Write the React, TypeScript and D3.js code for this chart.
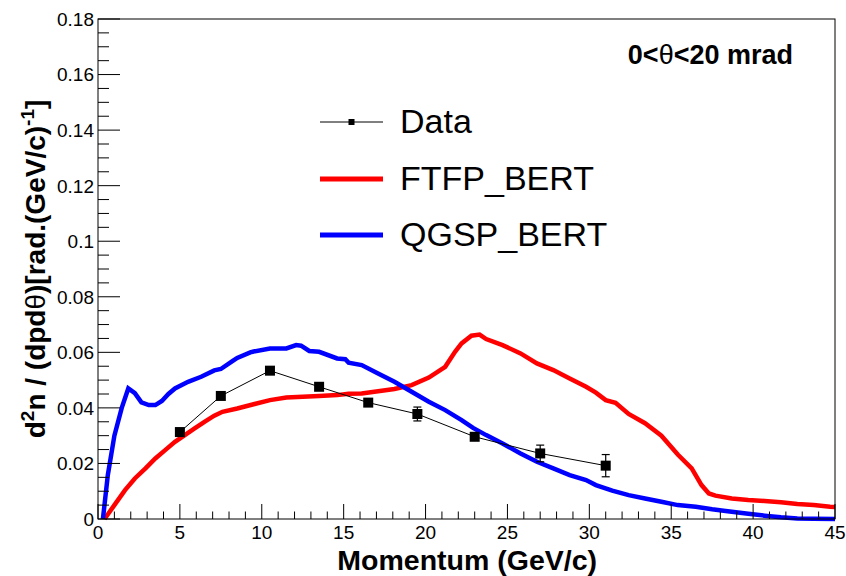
import React from "react";
import * as d3 from "d3";

// Measured double-differential yield, 0 < theta < 20 mrad
const dataMomentum = [5, 7.5, 10.5, 13.5, 16.5, 19.5, 23, 27, 31];
const dataYield = [0.0313, 0.0443, 0.0534, 0.0476, 0.0419, 0.0378, 0.0296, 0.0236, 0.0192];
const dataError = [0.001, 0.001, 0.001, 0.0012, 0.0012, 0.0025, 0.0015, 0.003, 0.004];

// FTFP_BERT simulation: [momentum, yield]
const ftfpBert: [number, number][] = [
  [0.4, 0], [1.0, 0.005], [1.65, 0.0104], [2.25, 0.0146], [2.9, 0.0182], [3.5, 0.0218],
  [4.1, 0.0248], [4.7, 0.0278], [5.3, 0.0302], [5.9, 0.0326], [6.5, 0.035], [7.1, 0.0372],
  [7.6, 0.0386], [8.5, 0.0398], [9.5, 0.0413], [10.5, 0.0428], [11.5, 0.0437], [12.5, 0.044],
  [13.5, 0.0443], [14.6, 0.0446], [15.3, 0.0451], [16.1, 0.0452], [17.1, 0.046], [18.1, 0.0468],
  [19.15, 0.0482], [20.2, 0.0509], [21.2, 0.0548], [21.8, 0.0602], [22.2, 0.0632], [22.8, 0.066],
  [23.3, 0.0664], [23.7, 0.0648], [24.7, 0.0626], [25.8, 0.0596], [26.8, 0.056], [27.8, 0.0536],
  [28.8, 0.0506], [29.8, 0.0476], [30.4, 0.0455], [31.0, 0.0428], [31.6, 0.0418], [32.4, 0.0378],
  [33.4, 0.0345], [34.4, 0.030], [35.4, 0.0232], [36.25, 0.0182], [36.85, 0.0122], [37.3, 0.0092],
  [37.7, 0.0084], [38.7, 0.0074], [39.7, 0.0068], [40.7, 0.0065], [41.7, 0.006], [42.7, 0.0054],
  [43.7, 0.005], [44.7, 0.0044], [45, 0.0043],
];

// QGSP_BERT simulation: [momentum, yield]
const qgspBert: [number, number][] = [
  [0.3, 0], [0.6, 0.0158], [1.0, 0.030], [1.45, 0.040], [1.85, 0.047], [2.25, 0.0453],
  [2.65, 0.042], [3.1, 0.041], [3.5, 0.041], [3.9, 0.0425], [4.3, 0.045], [4.7, 0.047],
  [5.5, 0.0494], [6.3, 0.0512], [7.1, 0.0535], [7.5, 0.054], [8.25, 0.057], [8.5, 0.058],
  [9.3, 0.060], [9.5, 0.0603], [10.5, 0.0614], [11.5, 0.0614], [12.1, 0.0626], [12.4, 0.0624],
  [12.9, 0.0605], [13.5, 0.0602], [14.6, 0.0578], [15.1, 0.0575], [15.3, 0.0563], [16.1, 0.0554],
  [17.1, 0.0524], [18.1, 0.0494], [19.15, 0.0458], [20.2, 0.0422], [21.2, 0.0392], [22.2, 0.0356],
  [22.9, 0.0328], [23.7, 0.0302], [24.7, 0.0272], [25.8, 0.0236], [26.8, 0.0206], [27.8, 0.0182],
  [28.8, 0.0158], [29.8, 0.014], [30.4, 0.0122], [31.4, 0.0102], [32.4, 0.0086], [33.4, 0.0074],
  [34.4, 0.0062], [35.4, 0.005], [36.5, 0.0044], [37.5, 0.0035], [38.2, 0.003], [38.7, 0.0026],
  [39.7, 0.0019], [40.7, 0.0012], [41.7, 0.0006], [42.7, 0.0002], [43.7, 0.0001], [45, 0],
];

const xTicks = [0, 5, 10, 15, 20, 25, 30, 35, 40, 45];
const yTicks = [0, 0.02, 0.04, 0.06, 0.08, 0.1, 0.12, 0.14, 0.16, 0.18];
const legendLabels = ["Data", "FTFP_BERT", "QGSP_BERT"];

const W = 846;
const H = 576;
const M = { left: 98, right: 11, top: 19, bottom: 57 };
const FONT = "'Liberation Sans', Arial, Helvetica, sans-serif";

export default function App() {
  const x = d3.scaleLinear().domain([0, 45]).range([M.left, W - M.right]);
  const y = d3.scaleLinear().domain([0, 0.18]).range([H - M.bottom, M.top]);

  const line = d3
    .line<[number, number]>()
    .x((d) => x(d[0]))
    .y((d) => y(d[1]))
    .curve(d3.curveLinear);

  const dataPts: [number, number][] = dataMomentum.map((p, i) => [p, dataYield[i]]);

  const xMinor = d3.range(0, 45.01, 1).filter((v) => v % 5 !== 0);
  const yMinor = d3.range(0, 0.1801, 0.005).filter((v) => Math.abs(v / 0.02 - Math.round(v / 0.02)) > 1e-6);

  const x0 = x(0);
  const y0 = y(0);
  const fmt = (v: number) => String(+v.toFixed(2));

  const legendX0 = 320;
  const legendX1 = 383;
  const legendYs = [122, 179, 235];
  const legendColors = ["#000", "#ff0000", "#0000ff"];

  return (
    <svg
      width={W}
      height={H}
      style={{ position: "absolute", left: 0, top: 0, background: "#fff" }}
      fontFamily={FONT}
    >
      <rect x={0} y={0} width={W} height={H} fill="#fff" />

      {/* simulation curves */}
      <path d={line(ftfpBert) ?? ""} fill="none" stroke="#ff0000" strokeWidth={4.5} strokeLinejoin="miter" />
      <path d={line(qgspBert) ?? ""} fill="none" stroke="#0000ff" strokeWidth={4.5} strokeLinejoin="miter" />

      {/* data */}
      <path d={line(dataPts) ?? ""} fill="none" stroke="#000" strokeWidth={1} />
      {dataPts.map(([p, v], i) => {
        const cx = x(p);
        const top = y(v + dataError[i]);
        const bot = y(v - dataError[i]);
        const showBar = bot - top > 10;
        return (
          <g key={i}>
            {showBar && (
              <g stroke="#000" strokeWidth={1.2}>
                <line x1={cx} x2={cx} y1={top} y2={bot} />
                <line x1={cx - 4} x2={cx + 4} y1={top} y2={top} />
                <line x1={cx - 4} x2={cx + 4} y1={bot} y2={bot} />
              </g>
            )}
            <rect x={cx - 5} y={y(v) - 5} width={10} height={10} fill="#000" />
          </g>
        );
      })}

      {/* frame */}
      <rect
        x={M.left}
        y={M.top}
        width={W - M.left - M.right}
        height={H - M.top - M.bottom}
        fill="none"
        stroke="#000"
        strokeWidth={1}
      />

      {/* x axis ticks */}
      {xTicks.map((t) => (
        <g key={"xt" + t}>
          <line x1={x(t)} x2={x(t)} y1={y0} y2={y0 - 15} stroke="#000" strokeWidth={1} />
          <text x={x(t)} y={539} fontSize={19} textAnchor="middle" fill="#000">
            {t}
          </text>
        </g>
      ))}
      {xMinor.map((t) => (
        <line key={"xm" + t} x1={x(t)} x2={x(t)} y1={y0} y2={y0 - 7.5} stroke="#000" strokeWidth={1} />
      ))}

      {/* y axis ticks */}
      {yTicks.map((t) => (
        <g key={"yt" + t}>
          <line x1={x0} x2={x0 + 22} y1={y(t)} y2={y(t)} stroke="#000" strokeWidth={1} />
          <text x={94} y={y(t)} dy="0.36em" fontSize={19} textAnchor="end" fill="#000">
            {fmt(t)}
          </text>
        </g>
      ))}
      {yMinor.map((t, i) => (
        <line key={"ym" + i} x1={x0} x2={x0 + 11} y1={y(t)} y2={y(t)} stroke="#000" strokeWidth={1} />
      ))}

      {/* axis titles */}
      <text x={597} y={570} fontSize={28.5} fontWeight="bold" textAnchor="end" fill="#000">
        Momentum (GeV/c)
      </text>
      <text
        transform={`translate(45, ${(M.top + y0) / 2}) rotate(-90)`}
        fontSize={28}
        fontWeight="bold"
        textAnchor="middle"
        fill="#000"
      >
        d<tspan dy={-11} fontSize={19}>2</tspan>
        <tspan dy={11}>n / (dpd</tspan>
        <tspan fontWeight="normal">θ</tspan>
        <tspan>)[rad.(GeV/c)</tspan>
        <tspan dy={-11} fontSize={19}>-1</tspan>
        <tspan dy={11}>]</tspan>
      </text>

      {/* angular range */}
      <text x={793} y={64} fontSize={27} fontWeight="bold" textAnchor="end" fill="#000">
        0&lt;<tspan fontWeight="normal">θ</tspan>&lt;20 mrad
      </text>

      {/* legend */}
      {legendLabels.map((lab, i) => (
        <g key={lab}>
          <line
            x1={legendX0}
            x2={legendX1}
            y1={legendYs[i]}
            y2={legendYs[i]}
            stroke={legendColors[i]}
            strokeWidth={i === 0 ? 1 : 5}
          />
          {i === 0 && (
            <rect x={(legendX0 + legendX1) / 2 - 3} y={legendYs[i] - 3} width={6} height={6} fill="#000" />
          )}
          <text x={400} y={legendYs[i] + 11} fontSize={34} fill="#000">
            {lab}
          </text>
        </g>
      ))}
    </svg>
  );
}
